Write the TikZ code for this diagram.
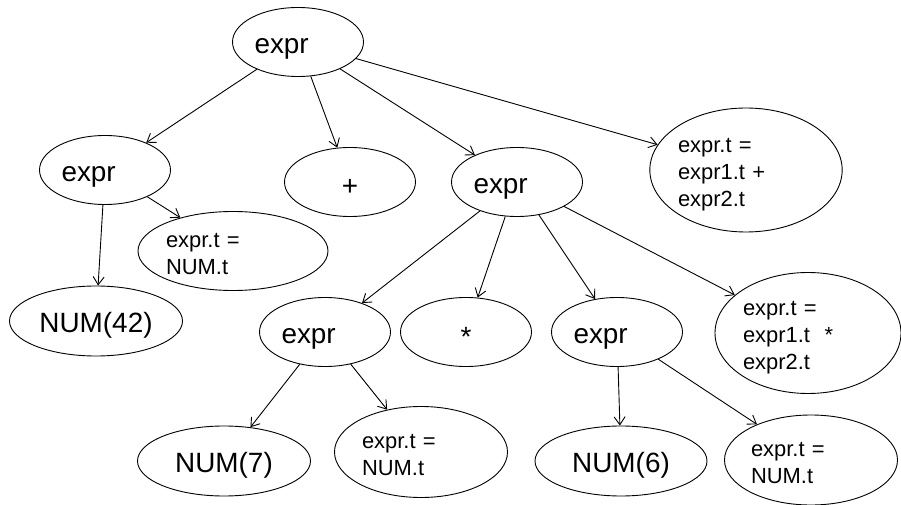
\documentclass[tikz,border=0pt]{standalone}
\usepackage{fontspec}
\setmainfont{Liberation Sans}
\usetikzlibrary{shapes.geometric, arrows.meta}

\tikzset{
  tree/.style={draw, ellipse, inner sep=0pt, line width=0.9bp},
  sym/.style={tree, minimum width=131bp, minimum height=69bp, font=\fontsize{28}{32}\selectfont, text height=28bp},
  word/.style={sym, text width=87bp, align=left},
  num/.style={tree, minimum width=173bp, minimum height=70bp, font=\fontsize{28}{32}\selectfont, text height=28bp},
  attr/.style={tree, text width=#1, align=left, font=\fontsize{22}{27}\selectfont, text depth=21bp},
  attrlong/.style={attr=#1, text depth=49bp},
  edge/.style={line width=0.9bp, -{Straight Barb[length=8bp, width=11bp]}}
}

\begin{document}
\begin{tikzpicture}[x=1bp, y=-1bp]
\useasboundingbox (0,0) rectangle (901,505);

\node (root) at (298, 42) [word] {expr};

\node (left) at (105, 170) [word] {expr};
\node (plus) at (350, 182) [sym] {+};
\node (mid) at (517, 182) [word] {expr};
\node (sum) at (746, 170) [attrlong=136bp, minimum width=192bp, minimum height=124bp] {expr.t =\\expr1.t +\\expr2.t};

\node (lt) at (233, 251) [attr=134bp, minimum width=190bp, minimum height=79bp] {expr.t =\\NUM.t};
\node (n42) at (96, 321) [num] {NUM(42)};

\node (ll) at (325, 332) [word] {expr};
\node (star) at (466, 332) [sym] {*};
\node (lm) at (617, 332) [word] {expr};
\node (prod) at (808, 333) [attrlong=130bp, minimum width=186bp, minimum height=121bp] {expr.t =\\expr1.t\ \ *\\expr2.t};

\node (n7) at (224, 461) [num] {NUM(7)};
\node (llt) at (421, 452) [attr=118bp, minimum width=173bp, minimum height=91bp] {expr.t =\\NUM.t};
\node (n6) at (621, 461) [num, minimum width=172bp] {NUM(6)};
\node (lmt) at (811, 460) [attr=120bp, minimum width=173bp, minimum height=90bp] {expr.t =\\NUM.t};

\draw [edge] (root) -- (left);
\draw [edge] (root) -- (plus);
\draw [edge] (root) -- (mid);
\draw [edge] (root) -- (sum);

\draw [edge] (left) -- (n42);
\draw [edge] (left) -- (lt);

\draw [edge] (mid) -- (ll);
\draw [edge] (mid) -- (star);
\draw [edge] (mid) -- (lm);
\draw [edge] (mid) -- (prod);

\draw [edge] (ll) -- (n7);
\draw [edge] (ll) -- (llt);
\draw [edge] (lm) -- (n6);
\draw [edge] (lm) -- (lmt);

\end{tikzpicture}
\end{document}
